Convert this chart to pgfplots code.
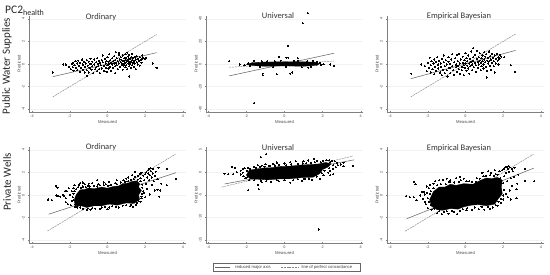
\documentclass[border=0pt]{standalone}
\usepackage{pgfplots}
\pgfplotsset{compat=1.18}
\usepackage{fontspec}
\setmainfont{Carlito}
\newfontfamily\tinyf{Liberation Sans}
\definecolor{axg}{gray}{0.5}
\definecolor{lng}{gray}{0.4}
\pgfplotsset{
 pan/.style={scale only axis,width=157pt,height=96pt,xmin=-4.16,xmax=4.16,
  axis x line=bottom,axis y line=left,axis line style={axg,line width=0.5pt,-},
  xtick={-4,-2,0,2,4},tick style={axg,line width=0.3pt},tickwidth=1.5pt,
  ymajorgrids,grid style={gray!10,line width=0.3pt},
  tick label style={font=\tinyf\fontsize{3.8}{4}\selectfont,text=black!70},
  yticklabel style={rotate=90,anchor=south},xticklabel style={anchor=north,yshift=1pt},
  xlabel={Measured},ylabel={Predicted},
  label style={font=\tinyf\fontsize{4.2}{5}\selectfont,text=black!70},
  xlabel style={yshift=4.5pt},ylabel style={yshift=-5.5pt},
  /pgf/number format/assume math mode=true,clip=false,
  axis on top=false},
 r4/.style={ymin=-4.24,ymax=4.24,ytick={-4,-2,0,2,4}},
 rma/.style={lng,line width=0.55pt},
 ppc/.style={lng!80,line width=0.45pt,dash pattern=on 2pt off 0.8pt},
 dots/.style={only marks,mark=*,mark size=0.58pt,black,mark options={draw=black,fill=black,line width=0pt}},
 blob/.style={fill=black,draw=black,line width=0.3pt}
}
\begin{document}
\begin{tikzpicture}[x=1pt,y=1pt]
\path[use as bounding box] (0,0) rectangle (550,275);
% ---------- Panel 1
\begin{axis}[pan,r4,at={(29pt,163pt)},anchor=south west,name=a1]
\addplot[rma] coordinates {(-2.9,-1.12)(2.6,1.0)};
\addplot[ppc] coordinates {(-2.9,-2.9)(2.6,2.6)};
\addplot[dots] coordinates {
(-2.9,-0.75)(2.4,0.05)(2.6,-0.35)(1.15,-1.1)(-2.35,-0.05)(-2.2,-0.05)(-2.05,-0.25)(-1.95,-0.45)(-1.9,0.0)(-1.85,0.1)(-1.85,-0.3)(-1.8,-0.6)(-1.75,-0.1)(-1.7,0.25)(-1.65,-0.35)(-1.6,0.05)(-1.6,-0.55)(-1.55,0.3)(-1.5,-0.15)(-1.45,0.1)(-1.45,-0.7)(-1.4,-0.35)(-1.35,0.4)(-1.3,-0.05)(-1.3,-0.5)(-1.25,0.2)(-1.2,-0.25)(-1.2,-0.75)(-1.15,0.05)(-1.1,0.35)(-1.1,-0.55)(-1.05,-0.15)(-1.1,-1.05)(-1.0,0.2)(-1.0,-0.75)(-0.95,-0.35)(-0.9,0.45)(-0.9,0.0)(-0.85,-0.5)(-0.8,0.2)(-0.8,-0.2)(-0.75,-0.8)(-0.7,0.4)(-0.7,-0.05)(-0.65,-0.45)(-0.6,0.15)(-0.6,-0.3)(-0.55,0.5)(-0.55,-0.65)(-0.5,0.0)(-0.5,-0.2)(-0.45,0.3)(-0.45,-0.45)(-0.4,0.1)(-0.4,-0.8)(-0.35,-0.1)(-0.3,0.35)(-0.3,-0.4)(-0.25,0.15)(-0.25,0.75)(-0.2,-0.15)(-0.2,-0.6)(-0.15,0.45)(-0.1,0.05)(-0.1,-0.35)(-0.05,0.25)(-0.05,-0.7)(0.0,0.6)(0.0,-0.1)(0.05,0.2)(0.05,-0.4)(0.1,0.0)(0.1,0.85)(0.15,0.35)(0.15,-0.25)(0.2,0.1)(0.2,-0.6)(0.25,0.5)(0.25,-0.05)(0.3,0.25)(0.3,-0.35)(0.35,0.7)(0.35,0.05)(0.4,0.35)(0.4,-0.2)(0.4,-0.8)(0.45,0.1)(0.45,1.05)(0.5,0.5)(0.5,-0.1)(0.55,0.25)(0.55,-0.45)(0.6,0.8)(0.6,0.05)(0.6,1.0)(0.65,0.4)(0.65,-0.25)(0.7,0.15)(0.7,0.6)(0.75,-0.05)(0.75,0.35)(0.8,0.0)(0.8,-0.5)(0.8,0.75)(0.85,0.25)(0.85,-0.15)(0.9,0.5)(0.9,0.05)(0.95,0.35)(0.95,-0.3)(0.95,0.85)(1.0,0.15)(1.0,0.55)(1.0,-0.1)(1.05,1.0)(1.05,0.3)(1.05,-0.45)(1.1,0.05)(1.1,0.65)(1.1,0.4)(1.15,0.2)(1.15,-0.2)(1.15,0.8)(1.2,0.45)(1.2,0.0)(1.25,0.6)(1.25,0.2)(1.25,-0.35)(1.3,0.35)(1.3,-0.1)(1.3,0.9)(1.35,0.1)(1.35,0.55)(1.4,-0.25)(1.4,0.3)(1.45,0.65)(1.45,0.05)(1.5,0.4)(1.5,-0.45)(1.55,0.15)(1.55,0.7)(1.6,-0.05)(1.6,0.45)(1.65,0.25)(1.7,0.6)(1.7,-0.15)(1.75,0.35)(1.8,0.1)(1.85,0.75)(1.85,0.45)(1.9,0.55)(2.0,0.45)(2.05,0.55)
};
\end{axis}
% ---------- Panel 2
\begin{axis}[pan,at={(206pt,163pt)},anchor=south west,xmin=-4.12,xmax=4.12,ymin=-42.4,ymax=42.4,ytick={-40,-20,0,20,40},name=a2]
\addplot[rma] coordinates {(-2.9,-10.5)(2.6,9.5)};
\addplot[ppc] coordinates {(-2.9,-2.9)(2.6,2.6)};
\addplot[blob] coordinates {(-2.0,-0.6)(-1.5,-1.6)(-1.0,-2.0)(0,-1.7)(1.0,-2.0)(1.7,-1.2)(1.85,0.3)(1.6,1.6)(1.0,1.9)(0,2.0)(-1.0,1.7)(-1.7,1.2)} --cycle;
\addplot[dots] coordinates {
(1.23,45)(0.96,36)(0.2,16)(-1.6,-34.5)(-2.9,2.5)(-0.3,6.5)(0.1,5.5)(0.2,5.6)(0.7,5)(-1.15,-8.5)(-1.15,-10)(-0.4,-9.2)(0.3,-8.5)(0.4,-7.5)(1.5,2.8)(-2.35,-0.5)(2.05,-0.3)(2.4,-0.5)(2.6,-1.5)(-2.1,-1)(-1.9,0.8)(-1.6,2.8)(-1.3,-2.5)(-1.2,2.4)(-0.9,2.5)(-0.6,-2.7)(-0.2,2.9)(0.1,-2.6)(0.5,2.7)(0.9,-3)(1.2,2.4)(1.25,-3.2)(1.4,-2.6)(1.7,1.8)(1.85,1)(1.9,-0.8)(-1.8,-1.7)(-0.5,2.3)(0.7,3)
};
\end{axis}
% ---------- Panel 3
\begin{axis}[pan,r4,at={(387pt,163pt)},anchor=south west,name=a3]
\addplot[rma] coordinates {(-2.9,-1.3)(2.65,1.2)};
\addplot[ppc] coordinates {(-2.9,-2.9)(2.65,2.65)};
\addplot[dots] coordinates {
(-2.87,-0.85)(2.4,-0.1)(2.63,-0.7)(1.13,-1.2)(1.55,-0.75)(-2.35,-0.05)(-2.15,-0.2)(-2.05,-0.65)(-2.0,0.1)(-1.95,-0.35)(-1.9,0.55)(-1.85,-0.1)(-1.85,-0.75)(-1.8,0.25)(-1.75,-0.45)(-1.7,0.05)(-1.65,0.4)(-1.65,-0.9)(-1.6,-0.25)(-1.55,0.2)(-1.55,-0.6)(-1.5,0.6)(-1.45,-0.05)(-1.45,-0.4)(-1.4,0.3)(-1.35,-0.75)(-1.3,0.05)(-1.3,-0.25)(-1.25,0.45)(-1.25,-1.0)(-1.2,-0.5)(-1.15,0.15)(-1.15,0.75)(-1.1,-0.2)(-1.1,-0.8)(-1.05,0.35)(-1.0,-0.05)(-1.0,-0.55)(-0.95,-1.1)(-0.9,0.2)(-0.9,0.6)(-0.85,-0.35)(-0.8,0.0)(-0.8,-0.8)(-0.75,0.4)(-0.7,-0.2)(-0.7,0.85)(-0.65,-0.55)(-0.6,0.15)(-0.6,-0.95)(-0.55,0.5)(-0.5,-0.3)(-0.5,-0.05)(-0.45,0.8)(-0.45,-0.7)(-0.4,0.25)(-0.4,-0.15)(-0.35,-0.45)(-0.35,0.9)(-0.3,0.05)(-0.3,-0.85)(-0.25,0.4)(-0.2,-0.25)(-0.2,-0.55)(-0.15,0.1)(-0.15,0.65)(-0.1,-0.1)(-0.1,-1.0)(-0.05,0.35)(-0.05,-0.35)(0.0,0.05)(0.0,0.95)(0.05,-0.6)(0.05,0.5)(0.1,-0.15)(0.1,0.25)(0.15,0.75)(0.15,-0.4)(0.2,0.05)(0.2,-0.85)(0.25,0.45)(0.25,-0.2)(0.3,0.2)(0.3,1.1)(0.35,-0.05)(0.35,-0.55)(0.4,0.6)(0.4,0.3)(0.4,1.4)(0.45,-0.3)(0.5,0.1)(0.5,0.8)(0.55,-0.1)(0.55,-0.7)(0.6,0.45)(0.6,1.15)(0.65,0.2)(0.65,-0.35)(0.7,0.6)(0.7,-0.05)(0.75,0.3)(0.75,0.95)(0.8,-0.55)(0.8,0.1)(0.85,0.5)(0.85,-0.2)(0.9,0.75)(0.9,0.25)(0.95,-0.05)(0.95,-0.4)(1.0,0.4)(1.0,1.05)(1.05,0.15)(1.05,0.65)(1.1,-0.25)(1.1,0.85)(1.15,0.3)(1.15,-0.6)(1.2,0.55)(1.2,0.05)(1.25,1.1)(1.25,0.25)(1.3,0.7)(1.3,-0.15)(1.35,0.4)(1.35,-0.5)(1.4,0.1)(1.4,0.9)(1.45,0.55)(1.5,0.25)(1.5,-0.2)(1.55,0.75)(1.6,0.45)(1.6,0.05)(1.65,0.9)(1.7,0.3)(1.75,0.6)(1.75,-0.05)(1.8,0.45)(1.85,0.8)(1.9,0.65)(2.05,0.6)
};
\end{axis}
% ---------- Panel 4
\begin{axis}[pan,r4,at={(29pt,32pt)},anchor=south west,name=a4]
\addplot[rma] coordinates {(-3.12,-1.7)(3.63,1.97)};
\addplot[ppc] coordinates {(-3.18,-3.18)(3.6,3.6)};
\addplot[blob] coordinates {(-1.75,-0.35)(-1.65,0.05)(-1.45,0.45)(-1.2,0.5)(-1.0,0.62)(-0.7,0.55)(-0.3,0.7)(0.0,0.6)(0.3,0.75)(0.6,0.8)(0.8,1.0)(1.1,1.05)(1.3,1.2)(1.55,1.25)(1.7,1.0)(1.65,0.7)(1.8,0.4)(1.65,0.0)(1.7,-0.4)(1.4,-0.75)(1.0,-0.7)(0.5,-0.9)(0.1,-0.8)(-0.3,-0.95)(-0.7,-0.95)(-1.1,-1.1)(-1.4,-0.95)(-1.6,-1.0)(-1.75,-0.7)} --cycle;
\addplot[dots] coordinates {
(-3.15,-0.4)(-2.95,-0.45)(-2.75,0.8)(-2.65,0.65)(-2.7,-0.05)(-2.6,-0.1)(-2.5,-0.15)(-2.35,0.0)(-2.3,-0.1)(-2.25,0.35)(-2.15,0.35)(-2.2,-0.3)(-2.2,-0.65)(-2.1,-0.8)(-2.0,0.0)(-2.05,0.6)(-1.95,-0.9)(-1.9,0.35)(-1.9,-0.55)(-1.8,0.6)(-1.75,0.85)(-1.7,-1.05)(-1.5,0.9)(-1.45,1.05)(-1.3,1.1)(-1.2,0.95)(-1.1,-1.35)(-1.0,1.0)(-0.9,-1.3)(-0.8,1.05)(-0.55,1.3)(-0.5,0.95)(-0.4,-1.2)(-0.2,1.1)(-0.1,0.95)(0.0,-1.25)(0.1,-1.1)(0.1,1.15)(0.4,1.05)(0.5,1.3)(0.6,-1.1)(0.85,1.3)(1.0,1.45)(1.1,1.55)(1.2,-1.0)(1.3,1.75)(1.35,-1.05)(1.45,1.6)(1.45,2.05)(1.5,-0.85)(1.6,1.7)(1.65,-0.55)(1.7,1.85)(1.75,1.5)(1.8,-0.3)(1.8,1.95)(1.85,0.9)(1.9,1.7)(1.95,1.3)(1.95,0.2)(2.0,1.85)(2.0,-0.2)(2.05,1.0)(2.05,2.0)(2.1,1.55)(2.1,0.55)(2.15,2.2)(2.15,1.9)(2.2,2.3)(2.2,1.3)(2.25,1.75)(2.25,0.05)(2.3,2.35)(2.3,2.1)(2.35,1.55)(2.35,0.9)(2.4,2.3)(2.4,1.9)(2.45,1.2)(2.5,0.4)(2.5,1.7)(2.55,2.05)(2.65,1.4)(2.65,0.45)(2.7,2.4)(2.75,-0.15)(2.8,0.4)(2.85,1.0)(3.15,2.3)(3.15,0.85)(3.63,1.45)
(-1.85,-0.2)(-1.8,-0.45)(-1.8,0.1)(-1.75,0.35)(-1.7,-0.85)(-1.65,0.5)(-1.6,-1.1)(-1.55,0.7)(-1.45,-1.1)(-1.4,0.65)(-1.3,0.75)(-1.3,-1.2)(-1.15,0.7)(-1.05,0.8)(-1.05,-1.2)(-0.95,0.75)(-0.8,-1.15)(-0.7,0.8)(-0.65,-1.2)(-0.55,0.75)(-0.4,0.85)(-0.3,-1.1)(-0.2,0.85)(-0.15,-1.05)(0.05,0.8)(0.2,0.9)(0.25,-1.0)(0.45,-1.05)(0.5,0.95)(0.7,1.1)(0.8,-0.95)(0.95,1.15)(1.0,-0.9)(1.1,1.2)(1.25,1.35)(1.25,-0.85)(1.4,1.4)(1.55,-0.7)(1.6,1.35)(1.75,-0.6)(1.75,1.2)(1.8,-0.15)(1.85,0.65)(1.9,0.35)(1.85,0.1)
};
\end{axis}
% ---------- Panel 5
\begin{axis}[pan,at={(206pt,32pt)},anchor=south west,xmin=-4.12,xmax=4.12,ymin=-15.7,ymax=5.6,ytick={-15,-10,-5,0,5},name=a5]
\addplot[rma] coordinates {(-3.14,-2.6)(3.65,2.74)};
\addplot[ppc] coordinates {(-3.3,-3.3)(3.6,3.6)};
\addplot[blob] coordinates {(-1.85,0.45)(-1.5,0.7)(-1.1,0.95)(-0.7,1.0)(-0.2,1.3)(0.3,1.35)(0.84,1.6)(1.3,1.7)(1.8,1.85)(2.15,2.15)(2.45,1.9)(2.3,1.2)(2.0,0.6)(1.85,-0.3)(1.5,-1.1)(0.9,-1.2)(0.3,-1.45)(-0.3,-1.5)(-0.9,-1.7)(-1.4,-1.55)(-1.8,-1.5)(-2.0,-0.6)} --cycle;
\addplot[dots] coordinates {
(1.8,-12.7)(-1.9,-4)(-1.35,-3.8)(-1.4,-2.8)(-1.2,-2.2)(-1.25,3.3)(-0.95,4.0)(-2.75,1.2)(-2.6,1.0)(-3.15,-0.3)(-2.95,-0.4)(-2.7,-0.4)(-2.5,0.0)(-2.3,0.35)(-2.3,-0.5)(-2.2,-0.1)(-2.2,0.7)(-2.15,-0.9)(-2.1,0.9)(-2.05,-1.3)(-1.9,0.95)(-1.85,-1.8)(-1.6,1.25)(-1.4,1.6)(-1.2,1.45)(-1.0,1.8)(-0.8,1.4)(-0.7,-2.1)(-0.6,1.9)(-0.4,2.15)(-0.3,-2.0)(0.0,1.95)(0.3,-2.3)(0.3,2.2)(0.6,2.4)(0.9,-1.9)(1.0,2.4)(1.25,2.6)(1.45,-1.7)(1.55,3.0)(1.7,2.5)(1.85,-1.5)(2.0,2.5)(2.05,-0.7)(2.2,2.7)(2.3,-0.1)(2.35,2.65)(2.4,0.3)(2.5,2.5)(2.55,0.8)(2.65,2.4)(2.7,1.1)(2.75,2.1)(2.8,1.6)(2.4,-0.7)(2.55,-0.4)(2.95,1.7)(3.1,2.1)(3.1,1.3)(3.6,1.4)
(-1.95,0.3)(-1.8,0.75)(-1.5,1.0)(-1.3,1.2)(-1.05,1.25)(-0.75,1.3)(-0.5,1.5)(-0.3,1.65)(0.1,1.55)(0.35,1.7)(0.7,1.85)(0.95,1.95)(1.15,2.0)(1.4,2.1)(1.6,2.2)(1.9,2.2)(2.4,2.25)(2.55,1.6)(2.35,0.9)(2.1,0.3)(1.95,-0.2)(1.7,-0.95)(1.3,-1.45)(1.05,-1.5)(0.7,-1.55)(0.45,-1.8)(0.0,-1.75)(-0.4,-1.75)(-0.95,-1.95)(-1.25,-1.85)(-1.6,-1.8)(-1.95,-1.1)
};
\end{axis}
% ---------- Panel 6
\begin{axis}[pan,r4,at={(387pt,32pt)},anchor=south west,name=a6]
\addplot[rma] coordinates {(-3.12,-2.1)(3.63,2.38)};
\addplot[ppc] coordinates {(-3.2,-3.2)(3.6,3.6)};
\addplot[blob] coordinates {(-1.9,-0.4)(-1.7,0.3)(-1.4,0.7)(-1.1,0.7)(-0.8,0.95)(-0.5,0.85)(-0.1,1.0)(0.4,0.95)(0.8,1.3)(1.1,1.5)(1.4,1.45)(1.7,1.55)(1.95,1.3)(1.9,0.7)(1.95,0.1)(1.75,-0.3)(1.55,-0.8)(1.1,-0.95)(0.7,-0.85)(0.3,-0.9)(-0.1,-1.05)(-0.4,-1.25)(-0.8,-1.2)(-1.2,-1.35)(-1.5,-1.3)(-1.8,-1.0)} --cycle;
\addplot[dots] coordinates {
(-3.15,-0.1)(-2.95,-0.2)(-2.75,-0.2)(-2.75,1.15)(-2.65,0.95)(-2.6,-0.45)(-2.4,-0.05)(-2.3,0.3)(-2.25,-0.35)(-2.2,0.3)(-2.15,0.05)(-2.15,-0.6)(-2.1,-0.8)(-2.05,0.2)(-2.05,0.75)(-1.95,0.6)(-2.0,-1.15)(-1.9,0.9)(-1.8,-1.3)(-1.7,1.0)(-1.6,1.2)(-1.5,-1.6)(-1.4,1.3)(-1.25,-1.7)(-1.2,1.35)(-1.0,1.45)(-0.9,-1.65)(-0.8,1.3)(-0.5,1.5)(-0.45,-1.7)(-0.3,1.6)(-0.25,1.3)(-0.1,1.45)(0.05,-1.35)(0.2,1.2)(0.35,-1.3)(0.6,1.5)(0.7,-1.25)(0.9,1.95)(1.0,-1.3)(1.2,2.1)(1.3,-1.2)(1.35,1.95)(1.45,-1.1)(1.55,2.2)(1.6,1.85)(1.7,-0.95)(1.8,2.1)(1.9,-0.7)(1.95,2.2)(2.05,2.3)(2.0,-0.4)(2.1,2.45)(2.15,0.1)(2.15,1.95)(2.2,2.5)(2.2,1.2)(2.25,2.3)(2.25,-0.2)(2.3,2.55)(2.3,2.05)(2.35,2.45)(2.35,0.4)(2.4,1.5)(2.4,-0.4)(2.45,2.3)(2.45,0.8)(2.5,2.1)(2.55,1.6)(2.6,2.4)(2.7,0.5)(2.7,-0.3)(2.75,1.0)(2.8,1.8)(3.15,1.25)(3.15,2.3)(3.63,1.2)
(-2.0,-0.3)(-1.95,-0.6)(-1.9,0.1)(-1.85,0.35)(-1.85,-0.9)(-1.7,0.6)(-1.65,-1.2)(-1.5,0.85)(-1.4,-1.45)(-1.3,0.95)(-1.15,-1.5)(-1.05,0.95)(-1.0,-1.45)(-0.85,1.15)(-0.7,-1.4)(-0.6,1.1)(-0.6,-1.5)(-0.35,1.15)(-0.3,-1.4)(-0.15,-1.25)(0.05,1.2)(0.1,-1.15)(0.35,1.15)(0.5,-1.1)(0.55,1.15)(0.75,1.45)(0.85,-1.05)(0.95,1.65)(1.1,1.7)(1.2,-1.05)(1.3,1.75)(1.5,1.7)(1.6,-0.9)(1.7,1.8)(1.75,-0.6)(1.85,1.5)(1.9,-0.35)(2.0,1.05)(2.05,0.45)(2.05,1.65)(2.0,-0.05)
};
\end{axis}
% ---------- Text
\node[anchor=west,inner sep=0pt,font=\fontsize{11.5}{14}\selectfont,text=black!85] at (5,264) {PC2\textsubscript{health}};
\node[rotate=90,inner sep=0pt,font=\fontsize{11}{14}\selectfont,text=black!85] at (7,209) {Public Water Supplies};
\node[rotate=90,inner sep=0pt,font=\fontsize{11}{14}\selectfont,text=black!85] at (7,93) {Private Wells};
\foreach \x/\y/\t in {101/258/Ordinary,278/259/Universal,459/259/Empirical Bayesian,101/127.5/Ordinary,278/127.5/Universal,459/127/Empirical Bayesian}
  \node[inner sep=0pt,font=\fontsize{8.5}{9}\selectfont,text=black!80] at (\x,\y) {\t};
% legend
\draw[black!60,line width=0.35pt] (213,4) rectangle (360,12);
\draw[lng,line width=0.5pt] (215,8) -- (230,8);
\node[anchor=west,inner sep=0pt,font=\tinyf\fontsize{4.2}{5}\selectfont,text=black!75] at (235,8) {reduced major axis};
\draw[lng!80,line width=0.4pt,dash pattern=on 2pt off 0.8pt] (281,8) -- (298,8);
\node[anchor=west,inner sep=0pt,font=\tinyf\fontsize{4.2}{5}\selectfont,text=black!75] at (301.5,8) {line of perfect concordance};
\end{tikzpicture}
\end{document}
